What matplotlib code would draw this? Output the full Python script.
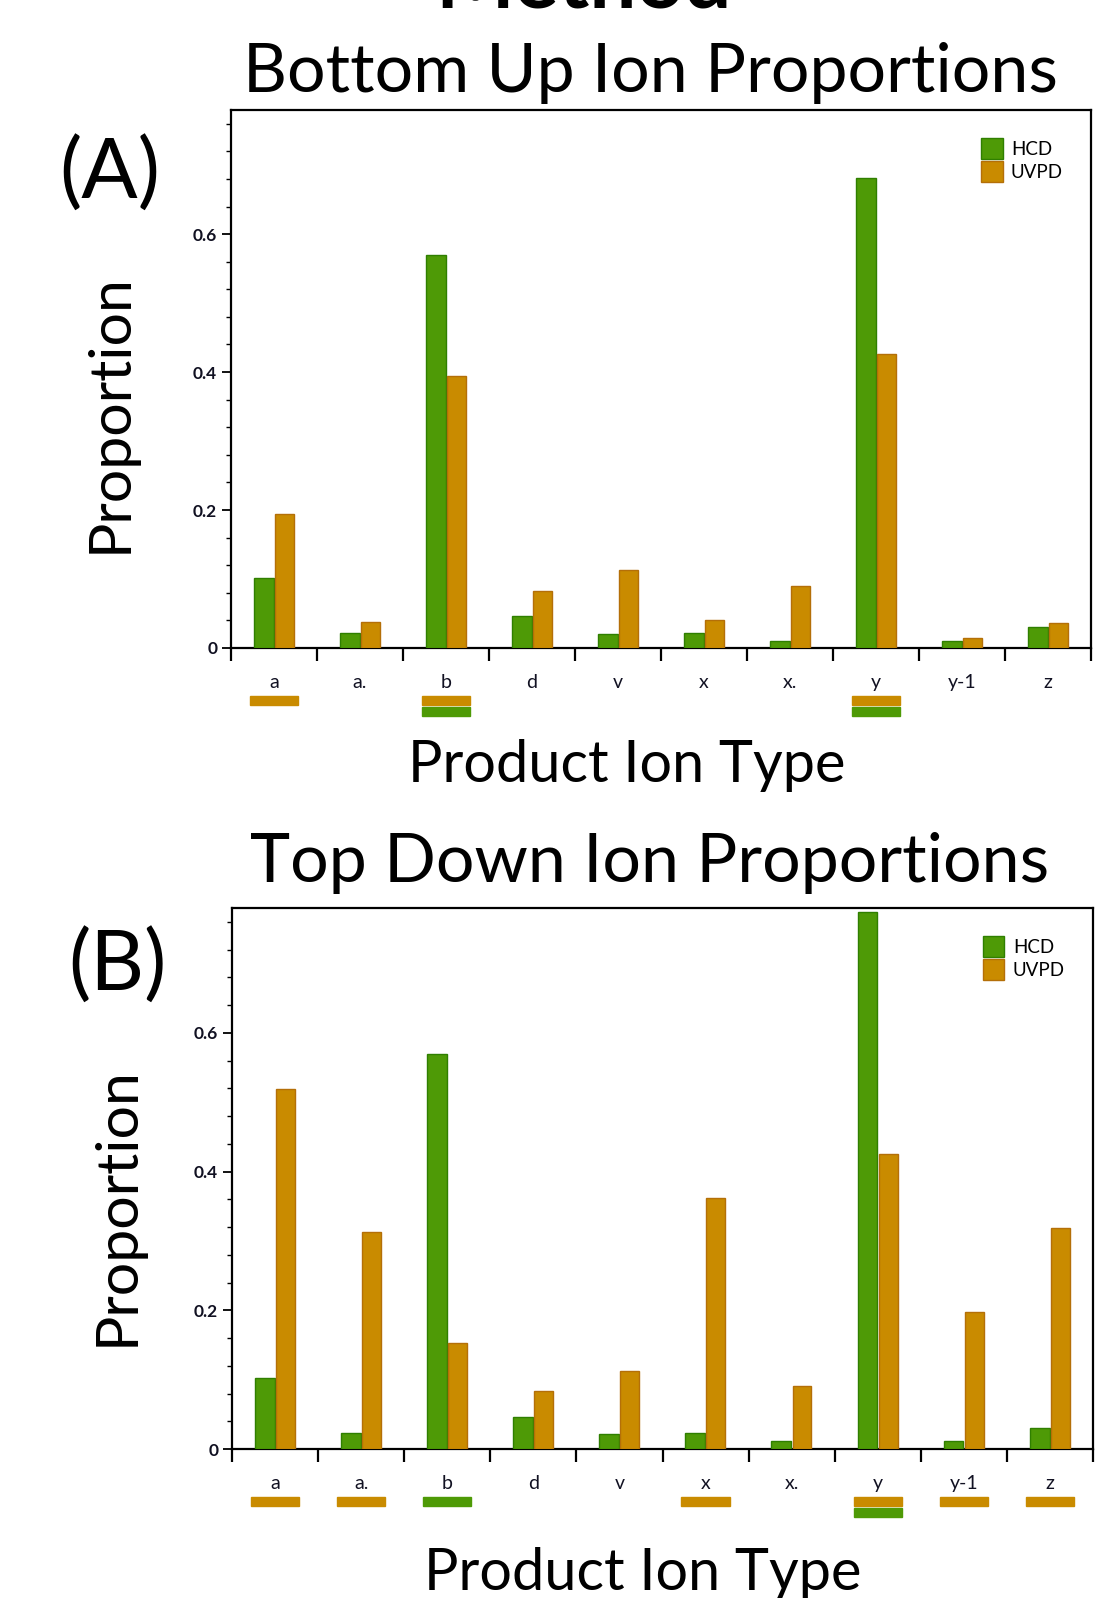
import numpy as np
import matplotlib.pyplot as plt
import matplotlib.transforms as mtransforms
from matplotlib.patches import Rectangle

plt.rcParams['font.family'] = ['Lato', 'DejaVu Sans']

# categories and values
ion_types = ['a', 'a.', 'b', 'd', 'v', 'x', 'x.', 'y', 'y-1', 'z']

bu_hcd = [0.101, 0.022, 0.570, 0.046, 0.020, 0.022, 0.010, 0.682, 0.010, 0.030]
bu_uvpd = [0.194, 0.038, 0.395, 0.082, 0.113, 0.041, 0.090, 0.426, 0.015, 0.036]

td_hcd = [0.102, 0.023, 0.570, 0.046, 0.021, 0.023, 0.011, 0.774, 0.011, 0.030]
td_uvpd = [0.519, 0.313, 0.153, 0.083, 0.113, 0.362, 0.091, 0.426, 0.198, 0.318]

# coloured markers under the tick labels (row 1 and row 2)
bu_marks_top = [('a', 'UVPD'), ('b', 'UVPD'), ('y', 'UVPD')]
bu_marks_bot = [('b', 'HCD'), ('y', 'HCD')]
td_marks_top = [('a', 'UVPD'), ('a.', 'UVPD'), ('b', 'HCD'), ('x', 'UVPD'),
                ('y', 'UVPD'), ('y-1', 'UVPD'), ('z', 'UVPD')]
td_marks_bot = [('y', 'HCD')]

green = '#4E9A06'
green_edge = '#2F7F00'
orange = '#C98B00'
orange_edge = '#B46F08'
fill = {'HCD': green, 'UVPD': orange}

W, H = 1096, 1598
fig = plt.figure(figsize=(W / 100, H / 100), dpi=100)


def draw_panel(rect, hcd, uvpd, marks_top, marks_bot):
    ax = fig.add_axes(rect)
    x = np.arange(len(ion_types))
    ax.bar(x - 0.12, hcd, width=0.23, color=green, edgecolor=green_edge,
           linewidth=1.0, label='HCD', zorder=3)
    ax.bar(x + 0.12, uvpd, width=0.22, color=orange, edgecolor=orange_edge,
           linewidth=1.0, label='UVPD', zorder=3)
    ax.set_xlim(-0.5, len(ion_types) - 0.5)
    ax.set_ylim(0, 0.78)

    # boundaries as ticks, labels in the middle of each category
    ax.set_xticks(np.arange(len(ion_types) + 1) - 0.5)
    ax.set_xticklabels([])
    ax.tick_params(axis='x', which='major', length=9, width=1.6, direction='out')
    ax.set_xticks(x, minor=True)
    ax.set_xticklabels(ion_types, minor=True, fontsize=14, color='#111122')
    ax.tick_params(axis='x', which='minor', length=0, pad=19)

    ax.set_yticks([0, 0.2, 0.4, 0.6])
    ax.set_yticklabels(['0', '0.2', '0.4', '0.6'], fontsize=12.5,
                       fontweight='bold', color='#111122')
    ax.set_yticks(np.arange(0, 0.77, 0.04), minor=True)
    ax.tick_params(axis='y', which='major', length=6.5, width=1.3)
    ax.tick_params(axis='y', which='minor', length=3.6, width=1.0)
    for s in ax.spines.values():
        s.set_linewidth(1.6)

    ax.legend(loc='upper right', frameon=False, fontsize=13.5,
              handlelength=1.15, handleheight=1.3, handletextpad=0.45,
              labelspacing=0.15, borderaxespad=1.1)

    trans = mtransforms.blended_transform_factory(ax.transData, ax.transAxes)
    for row, y0 in ((marks_top, -0.106), (marks_bot, -0.126)):
        for cat, series in row:
            i = ion_types.index(cat)
            ax.add_patch(Rectangle((i - 0.28, y0), 0.56, 0.017, transform=trans,
                                   color=fill[series], clip_on=False))
    return ax


axA = draw_panel([0.2108, 0.5945, 0.7847, 0.3367], bu_hcd, bu_uvpd,
                 bu_marks_top, bu_marks_bot)
axB = draw_panel([0.2117, 0.0932, 0.7856, 0.3386], td_hcd, td_uvpd,
                 td_marks_top, td_marks_bot)


def fx(px):
    return px / W


def fy(py):
    return 1 - py / H


fig.text(fx(584), fy(8), 'Method', fontsize=60, fontweight='bold',
         ha='center', va='baseline')
fig.text(fx(650), fy(92), 'Bottom Up Ion Proportions', fontsize=49,
         ha='center', va='baseline')
fig.text(fx(650), fy(882), 'Top Down Ion Proportions', fontsize=49,
         ha='center', va='baseline')

fig.text(fx(110), fy(199), '(A)', fontsize=60, ha='center', va='baseline')
fig.text(fx(117), fy(991), '(B)', fontsize=60, ha='center', va='baseline')

fig.text(fx(110), fy(413), 'Proportion', fontsize=42.5, rotation=90,
         ha='center', va='center')
fig.text(fx(117), fy(1206), 'Proportion', fontsize=42.5, rotation=90,
         ha='center', va='center')

fig.text(fx(627), fy(782), 'Product Ion Type', fontsize=41.5,
         ha='center', va='baseline')
fig.text(fx(643), fy(1590), 'Product Ion Type', fontsize=41.5,
         ha='center', va='baseline')

fig.savefig('out.png', dpi=100)
